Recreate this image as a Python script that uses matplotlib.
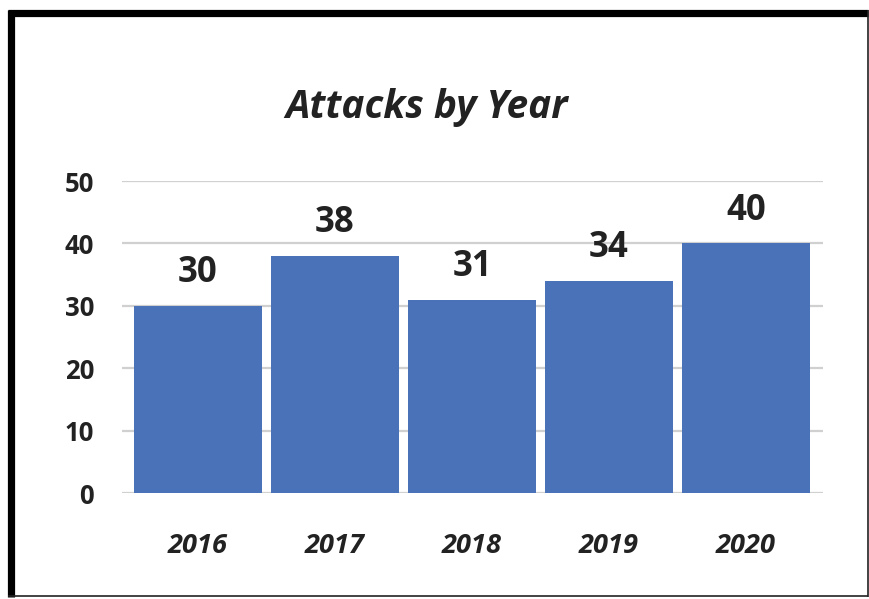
import matplotlib
matplotlib.use("Agg")
import matplotlib.pyplot as plt
from matplotlib.lines import Line2D

years = ["2016", "2017", "2018", "2019", "2020"]
attacks = [30, 38, 31, 34, 40]
y_ticks = [0, 10, 20, 30, 40, 50]

W, H, DPI = 869, 599, 100
plt.rcParams["font.family"] = ["Open Sans", "DejaVu Sans"]

fig = plt.figure(figsize=(W / DPI, H / DPI), dpi=DPI)
fig.patch.set_facecolor("white")

ax = fig.add_axes([122 / W, 106 / H, 701 / W, 312 / H])
x = list(range(len(years)))
bars = ax.bar(x, attacks, width=0.934, color="#4a72b8", zorder=3)

ax.set_xlim(-0.555, len(years) - 1 + 0.562)
ax.set_ylim(0, 50)
ax.set_yticks(y_ticks)
ax.set_yticklabels([str(t) for t in y_ticks], fontsize=18.5, fontweight="bold",
                   color="#222222")
ax.set_xticks(x)
ax.set_xticklabels(years, fontsize=19.5, fontweight="bold", fontstyle="italic",
                   color="#222222")
ax.tick_params(axis="y", length=0, pad=20)
ax.tick_params(axis="x", length=0, pad=29)
ax.grid(axis="y", color="#d0d0d0", linewidth=1.6, zorder=0)
for s in ax.spines.values():
    s.set_visible(False)
ax.set_facecolor("white")

for xi, v in zip(x, attacks):
    ax.annotate(str(v), (xi, v), xytext=(0, 10.5), textcoords="offset points",
                ha="center", va="bottom", fontsize=25, fontweight="bold",
                color="#222222")

fig.text(427 / W, 1 - 118 / H, "Attacks by Year", ha="center", va="baseline",
         fontsize=28, fontweight="bold", fontstyle="italic", color="#222222")

# frame around the chart: heavy top/left edges, thin right/bottom edges
def fx(px):
    return px / W

def fy(py):
    return 1 - py / H

fig.add_artist(Line2D([fx(8), fx(868)], [fy(13), fy(13)], color="black",
                      linewidth=5.2, solid_capstyle="butt"))
fig.add_artist(Line2D([fx(11), fx(11)], [fy(10), fy(597)], color="black",
                      linewidth=5.2, solid_capstyle="butt"))
fig.add_artist(Line2D([fx(867.5), fx(867.5)], [fy(10), fy(597)], color="#222222",
                      linewidth=1.2, solid_capstyle="butt"))
fig.add_artist(Line2D([fx(8), fx(868)], [fy(596), fy(596)], color="#222222",
                      linewidth=1.2, solid_capstyle="butt"))

fig.savefig("out.png", dpi=DPI, facecolor="white")
